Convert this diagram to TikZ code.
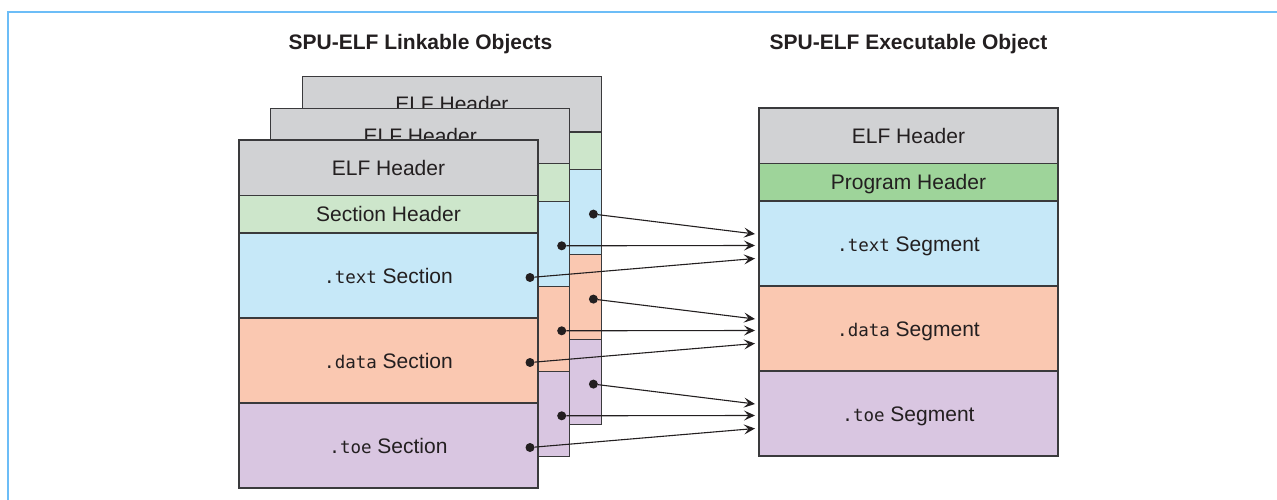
\documentclass[tikz,border=0pt]{standalone}
\usepackage{fontspec}
\setmainfont{Liberation Sans}
\newfontfamily\codefont{DejaVu Sans Mono}
\usetikzlibrary{arrows.meta,positioning}
\definecolor{ink}{HTML}{231F20}
\definecolor{edge}{HTML}{3A3A3C}
\definecolor{framebl}{HTML}{6CBDF7}
\definecolor{cHdrBg}{HTML}{D1D2D4}
\definecolor{cSecBg}{HTML}{CDE6CB}
\definecolor{cProgBg}{HTML}{9ED49A}
\definecolor{cTextBg}{HTML}{C6E8F8}
\definecolor{cDataBg}{HTML}{FAC8B1}
\definecolor{cToeBg}{HTML}{D9C6E1}
\newcommand\lblfont{\fontsize{21}{25}\selectfont}
\newcommand\code[1]{{\codefont\fontsize{17.5}{20}\selectfont #1}}
\tikzset{>={Stealth[length=11pt,width=10pt,inset=4.5pt]},
  part/.style={draw=edge,line width=1.3pt,minimum width=299pt,inner sep=0pt,outer sep=0pt,
    font=\lblfont,text=ink,text height=15pt,text depth=0pt},
  hdrbox/.style={part,fill=cHdrBg,minimum height=55.5pt},
  sechbox/.style={part,fill=cSecBg,minimum height=37.5pt},
  proghbox/.style={part,fill=cProgBg,minimum height=37.5pt},
  textbox/.style={part,fill=cTextBg,minimum height=85pt},
  databox/.style={part,fill=cDataBg,minimum height=85pt},
  toebox/.style={part,fill=cToeBg,minimum height=85pt},
  dot/.style={circle,fill=ink,inner sep=0pt,minimum size=9pt},
  link/.style={->,line width=1.1pt,draw=ink},
  title/.style={font=\bfseries\fontsize{21}{25}\selectfont,text=ink,anchor=base},
  frame/.style={draw=framebl,line width=1.8pt}}

\begin{document}
\begin{tikzpicture}[x=1pt,y=-1pt,node distance=0pt]
  \useasboundingbox (0,0) rectangle (1277,500);
  \draw[frame] (8,500) |- (1277,12);

  \node[title] (ltitle) at (420.5,50) {SPU-ELF Linkable Objects};
  \node[title] (rtitle) at (908.5,50) {SPU-ELF Executable Object};

  % linkable objects, back ones first
  \foreach \obj/\sh in {c/63.4,b/31.7}{
    \node[hdrbox,anchor=north west] (\obj0) at (239+\sh,140-\sh) {ELF Header};
    \node[sechbox,below=of \obj0] (\obj1) {};
    \node[textbox,below=of \obj1] (\obj2) {};
    \node[databox,below=of \obj2] (\obj3) {};
    \node[toebox,below=of \obj3] (\obj4) {};
  }
  \node[hdrbox,anchor=north west] (a0) at (239,140) {ELF Header};
  \node[sechbox,below=of a0] (a1) {Section Header};
  \node[textbox,below=of a1] (a2) {\code{.text} Section};
  \node[databox,below=of a2] (a3) {\code{.data} Section};
  \node[toebox,below=of a3] (a4) {\code{.toe} Section};

  % executable object
  \node[hdrbox,anchor=north west] (x0) at (759,108) {ELF Header};
  \node[proghbox,below=of x0] (x1) {Program Header};
  \node[textbox,below=of x1] (x2) {\code{.text} Segment};
  \node[databox,below=of x2] (x3) {\code{.data} Segment};
  \node[toebox,below=of x3] (x4) {\code{.toe} Segment};

  % section -> segment
  \foreach \obj/\dy in {c/9.5,b/-2,a/-15}{
    \foreach \n in {2,3,4}{
      \node[dot] (\obj\n dot) at ([xshift=-8pt,yshift=-2pt]\obj\n.east) {};
      \coordinate (\obj\n in) at ([xshift=-4pt,yshift=\dy pt]x\n.west);
      \draw[link] (\obj\n dot) -- (\obj\n in);
    }
  }
\end{tikzpicture}
\end{document}
